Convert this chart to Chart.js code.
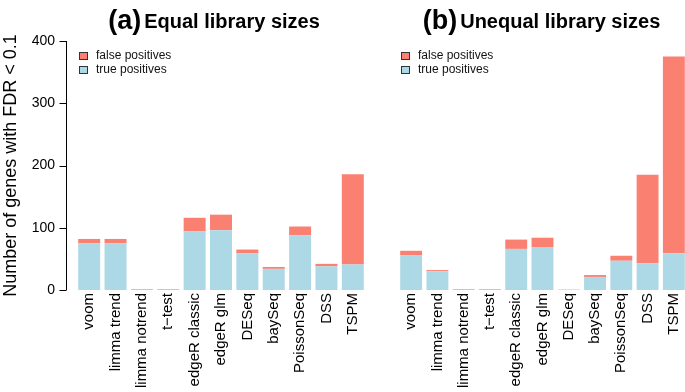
<!DOCTYPE html>
<html><head><meta charset="utf-8">
<script src="https://cdn.jsdelivr.net/npm/chart.js@4"></script>
<style>
html,body{margin:0;padding:0;background:#fff;overflow:hidden;width:685px;height:392px;}
#wrap{position:relative;width:685px;height:392px;overflow:hidden;background:#fff;}
#c1{position:absolute;left:0;top:0;}
#c2{position:absolute;left:370px;top:0;}
</style></head><body>
<div id="wrap"><canvas id="c1" width="366" height="392"></canvas><canvas id="c2" width="317" height="392"></canvas></div>
<script>
const categories = ['voom','limma trend','limma notrend','t\u2212test','edgeR classic','edgeR glm','DESeq','baySeq','PoissonSeq','DSS','TSPM'];
const equalTP   = [75, 75, 0, 0, 94, 96, 59, 34, 88, 38, 41];
const equalFP   = [7, 7, 1, 1, 22, 25, 6, 3, 14, 4, 145];
const unequalTP = [56, 30, 0, 0, 66, 69, 1, 21, 47, 43, 59];
const unequalFP = [7, 2, 1, 1, 15, 15, 0, 3, 8, 142, 316];
const yTicks = [0, 100, 200, 300, 400];
const seriesNames = ['true positives', 'false positives'];
const panelTags = ['(a)', '(b)'];
const panelTitles = ['Equal library sizes', 'Unequal library sizes'];
const yAxisTitle = 'Number of genes with FDR < 0.1';

const FONT = "'Liberation Sans', Arial, Helvetica, sans-serif";
const TP_COLOR = '#ADD8E6';
const FP_COLOR = '#FA8072';

const titlePlugin = {
  id: 'rTitle',
  afterDraw(chart, args, opts) {
    const ctx = chart.ctx, a = chart.chartArea;
    ctx.save();
    ctx.fillStyle = '#000';
    ctx.textBaseline = 'alphabetic';
    ctx.textAlign = 'left';
    ctx.font = 'bold 27px ' + FONT;
    const w1 = ctx.measureText(opts.tag).width;
    ctx.font = 'bold 20px ' + FONT;
    const w2 = ctx.measureText(opts.title).width;
    const gap = 3;
    const total = w1 + gap + w2;
    const cx = (a.left + a.right) / 2 + opts.dx;
    let x = cx - total / 2;
    ctx.font = 'bold 27px ' + FONT;
    ctx.fillText(opts.tag, x, 29);
    ctx.font = 'bold 20px ' + FONT;
    ctx.fillText(opts.title, x + w1 + gap, 28);
    ctx.restore();
  }
};

const legendPlugin = {
  id: 'rLegend',
  afterDraw(chart) {
    const ctx = chart.ctx, a = chart.chartArea;
    const ds = chart.data.datasets.slice().reverse();
    ctx.save();
    ctx.font = '12px ' + FONT;
    ctx.textBaseline = 'middle';
    ctx.textAlign = 'left';
    ds.forEach((d, i) => {
      const yc = a.top + 15 + i * 14;
      const x0 = a.left + 3;
      ctx.fillStyle = d.backgroundColor;
      ctx.fillRect(x0 + 0.5, yc - 3.5, 8, 7);
      ctx.strokeStyle = '#333';
      ctx.lineWidth = 1;
      ctx.strokeRect(x0 + 0.5, yc - 3.5, 8, 7);
      ctx.fillStyle = '#111';
      ctx.fillText(d.label, x0 + 17, yc);
    });
    ctx.restore();
  }
};

const rAxisPlugin = {
  id: 'rAxis',
  afterDraw(chart) {
    const y = chart.scales.y;
    if (!y.options.display) return;
    const ctx = chart.ctx, a = chart.chartArea;
    const x = Math.round(a.left - 10) + 0.5;
    ctx.save();
    ctx.strokeStyle = '#000';
    ctx.lineWidth = 1;
    ctx.beginPath();
    ctx.moveTo(x, y.getPixelForValue(yTicks[0]));
    ctx.lineTo(x, y.getPixelForValue(yTicks[yTicks.length - 1]));
    yTicks.forEach(v => {
      const py = Math.round(y.getPixelForValue(v)) + 0.5;
      ctx.moveTo(x, py);
      ctx.lineTo(x - 7, py);
    });
    ctx.stroke();
    ctx.restore();
  }
};

function makeChart(id, tp, fp, idx, showY, padLeft, dx) {
  return new Chart(document.getElementById(id), {
    type: 'bar',
    data: {
      labels: categories,
      datasets: [
        { label: seriesNames[0], data: tp, backgroundColor: TP_COLOR, borderWidth: 0, barPercentage: 0.834, categoryPercentage: 1 },
        { label: seriesNames[1], data: fp, backgroundColor: FP_COLOR, borderWidth: 0, barPercentage: 0.834, categoryPercentage: 1 }
      ]
    },
    options: {
      responsive: false,
      animation: false,
      devicePixelRatio: 1,
      layout: { padding: { top: 41, left: padLeft, right: 0, bottom: 0 } },
      plugins: {
        legend: { display: false },
        tooltip: { enabled: false },
        rTitle: { tag: panelTags[idx], title: panelTitles[idx], dx: dx }
      },
      scales: {
        x: {
          stacked: true,
          grid: { display: false, drawTicks: false },
          border: { display: false },
          ticks: { minRotation: 90, maxRotation: 90, autoSkip: false, padding: 3, color: '#000', font: { size: 15, family: FONT } },
          afterFit: s => { s.height = 102; s.paddingLeft = 0; s.paddingRight = 0; }
        },
        y: {
          display: showY,
          stacked: true,
          min: 0,
          max: 400,
          afterBuildTicks: s => { s.ticks = yTicks.map(v => ({ value: v })); },
          grid: { display: false, drawTicks: false },
          border: { display: false },
          ticks: { padding: 21, color: '#000', font: { size: 14, family: FONT } },
          title: { display: true, text: yAxisTitle, color: '#000', padding: 0, font: { size: 18, family: FONT } },
          afterFit: s => { s.width = showY ? 76 : 0; s.paddingTop = 0; s.paddingBottom = 0; }
        }
      }
    },
    plugins: [titlePlugin, legendPlugin, rAxisPlugin]
  });
}

makeChart('c1', equalTP, equalFP, 0, true, 0, -7);
makeChart('c2', unequalTP, unequalFP, 1, false, 28, -1);
</script>
</body></html>
